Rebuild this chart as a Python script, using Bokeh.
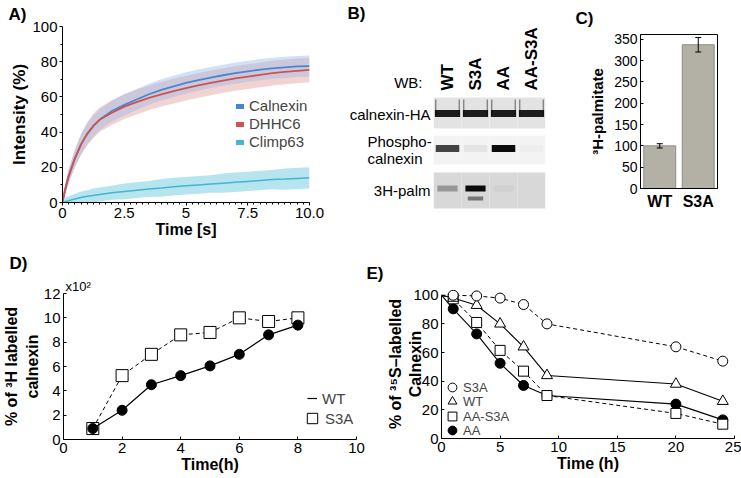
import math
import numpy as np
from bokeh.plotting import figure
from bokeh.models import (Range1d, FactorRange, Legend, LegendItem, Title,
                          FixedTicker, ColumnDataSource, Whisker, CDSView, IndexFilter)
from bokeh.layouts import row, column
from bokeh.transform import dodge
from bokeh.core.properties import value
from bokeh.embed import file_html
from bokeh.resources import INLINE

FONT = "Liberation Sans"

# ---------------- data ----------------
# Panel A: recovery curves (mean and spread)
a_time = [0, 0.1, 0.25, 0.5, 0.75, 1, 1.25, 1.5, 2, 2.5, 3, 3.5, 4, 4.5, 5, 5.5, 6, 6.5, 7, 7.5, 8, 8.5, 9, 9.5, 10]
a_calnexin = [0, 7, 15, 25, 33, 39, 43.5, 47, 52, 55.5, 58.5, 61.5, 64, 66, 68, 69.5, 71, 72.3, 73.5, 74.5, 75.5, 76.2, 76.8, 77.3, 77.5]
a_dhhc6 = [0, 7, 15, 25, 33, 39, 43.5, 47, 51, 54.5, 57, 59.5, 61.5, 63.3, 65, 66.5, 68, 69.3, 70.5, 71.5, 72.5, 73.5, 74.2, 74.8, 75.3]
a_climp63 = [0, 0.5, 1, 2, 2.8, 3.5, 4, 4.5, 5.5, 6.3, 7, 7.7, 8.3, 9, 9.5, 10, 10.5, 11, 11.5, 12, 12.5, 13, 13.3, 13.7, 14]
a_calnexin_err = [0, 3, 4, 5, 5.5, 6, 6, 6, 6, 6, 6, 6, 6, 6, 6, 6, 6, 6, 6, 6, 6, 6, 6, 6, 6]
a_dhhc6_err = [0, 3, 4, 5, 6, 6.5, 7, 7, 7, 7, 7, 7, 7, 7, 7, 7, 7, 7, 7, 7, 7, 7, 7, 7, 7]
a_climp63_err = [0, 2, 2.5, 3, 3.5, 3.5, 4, 4, 4, 4.5, 4.5, 4.5, 5, 5, 5, 5, 5, 5.5, 5.5, 5.5, 5.5, 5.5, 6, 6, 6]
a_series = ["Calnexin", "DHHC6", "Climp63"]
a_xticks = [0, 2.5, 5, 7.5, 10]
a_xtick_labels = ["0", "2.5", "5", "7.5", "10.0"]
a_yticks = [0, 20, 40, 60, 80, 100]

# Panel B: western blot lanes and band intensities (0..1)
b_lanes = ["WT", "S3A", "AA", "AA-S3A"]
b_calnexin_ha = [0.88, 0.88, 0.88, 0.88]
b_phospho = [0.72, 0.06, 0.95, 0.02]
b_palm = [0.3, 0.95, 0.03, 0.0]
b_palm_lower = [0.0, 0.45, 0.0, 0.0]

# Panel C
c_groups = ["WT", "S3A"]
c_values = [100, 337]
c_errors = [5, 17]
c_yticks = [0, 50, 100, 150, 200, 250, 300, 350]

# Panel D
d_time = [1, 2, 3, 4, 5, 6, 7, 8]
d_wt = [0.9, 2.4, 4.5, 5.25, 6.05, 7.0, 8.6, 9.4]
d_s3a = [0.9, 5.25, 7.0, 8.6, 8.8, 10.0, 9.7, 10.0]
d_xticks = [0, 2, 4, 6, 8, 10]
d_yticks = [0, 2, 4, 6, 8, 10, 12]

# Panel E
e_time = [0, 1, 3, 5, 7, 9, 20, 24]
e_s3a = [100, 100, 99.5, 98, 93.5, 80, 64, 54]
e_wt = [100, 98, 93, 80, 64, 44, 38, 26]
e_aas3a = [100, 97.5, 81, 61.5, 47, 30, 17.5, 10]
e_aa = [100, 90.5, 73, 52.5, 37, 30, 24, 13]
e_xticks = [0, 5, 10, 15, 20, 25]
e_yticks = [0, 20, 40, 60, 80, 100]


# ---------------- helpers ----------------
def style_axis(ax, size=15, tin=0, tout=3, standoff=2):
    ax.axis_line_color = "black"
    ax.axis_line_width = 1
    ax.major_tick_line_color = "black"
    ax.major_tick_in = tin
    ax.major_tick_out = tout
    ax.minor_tick_line_color = None
    ax.major_label_text_font = FONT
    ax.major_label_text_font_size = f"{size}px"
    ax.major_label_text_color = "black"
    ax.major_label_standoff = standoff
    ax.axis_label_text_font = FONT
    ax.axis_label_text_font_style = "bold"
    ax.axis_label_text_color = "black"


def base_fig(**kw):
    p = figure(output_backend="svg", toolbar_location=None, frame_align=False, **kw)
    p.grid.visible = False
    p.outline_line_color = None
    p.background_fill_color = "white"
    p.border_fill_color = "white"
    return p


def letter(p, text, offset, standoff, size=17):
    p.title.text = text
    p.title.align = "left"
    p.title.offset = offset
    p.title.standoff = standoff
    p.title.text_font = FONT
    p.title.text_font_size = f"{size}px"
    p.title.text_font_style = "bold"
    p.title.text_color = "black"


# ---------------- Panel A ----------------
pA = base_fig(width=335, height=240, x_range=Range1d(0, 10), y_range=Range1d(0, 100),
              min_border_left=62, min_border_right=26, min_border_top=25, min_border_bottom=38)
srcA = ColumnDataSource(dict(
    t=a_time, cal=a_calnexin, dh=a_dhhc6, cl=a_climp63,
    cal_lo=[m - e for m, e in zip(a_calnexin, a_calnexin_err)],
    cal_hi=[m + e for m, e in zip(a_calnexin, a_calnexin_err)],
    dh_lo=[m - e for m, e in zip(a_dhhc6, a_dhhc6_err)],
    dh_hi=[m + e for m, e in zip(a_dhhc6, a_dhhc6_err)],
    cl_lo=[max(0, m - e) for m, e in zip(a_climp63, a_climp63_err)],
    cl_hi=[m + e for m, e in zip(a_climp63, a_climp63_err)],
))
COL_CAL, COL_DH, COL_CL = "#4a86cf", "#d0524c", "#45b5d0"
pA.varea(x="t", y1="dh_lo", y2="dh_hi", source=srcA, fill_color="#e59c9c", fill_alpha=0.45)
pA.varea(x="t", y1="cal_lo", y2="cal_hi", source=srcA, fill_color="#9bbde8", fill_alpha=0.45)
pA.varea(x="t", y1="cl_lo", y2="cl_hi", source=srcA, fill_color="#86d2e4", fill_alpha=0.6)
pA.line("t", "cal", source=srcA, color=COL_CAL, line_width=1.8)
pA.line("t", "dh", source=srcA, color=COL_DH, line_width=1.8)
pA.line("t", "cl", source=srcA, color=COL_CL, line_width=1.5)
legA_r = [pA.line(x=np.array([np.nan]), y=np.array([np.nan]), line_width=5, line_cap="round", color=c)
          for c in (COL_CAL, COL_DH, COL_CL)]
legA = Legend(items=[LegendItem(label=s, renderers=[r]) for s, r in zip(a_series, legA_r)],
              location=(174, 52), glyph_width=8, glyph_height=14, label_height=14,
              label_standoff=5, spacing=1, padding=0, margin=0, border_line_color=None,
              background_fill_alpha=0, label_text_font=FONT, label_text_font_size="15px")
pA.add_layout(legA)
for ax in pA.axis:
    style_axis(ax, size=15, tin=0, tout=3, standoff=2)
    ax.minor_tick_line_color = "black"
    ax.minor_tick_in = 0
    ax.minor_tick_out = 2
pA.xaxis.ticker = FixedTicker(ticks=a_xticks, minor_ticks=[i * 0.25 for i in range(41)])
pA.xaxis.major_label_overrides = {t: l for t, l in zip(a_xticks, a_xtick_labels)}
pA.yaxis.ticker = FixedTicker(ticks=a_yticks, minor_ticks=[10, 30, 50, 70, 90])
pA.yaxis.axis_label = "Intensity (%)"
pA.yaxis.axis_label_text_font_size = "17px"
pA.yaxis.axis_label_standoff = 0
pA.xaxis.axis_label = "Time [s]"
pA.xaxis.axis_label_text_font_size = "16px"
pA.xaxis.axis_label_standoff = 0
letter(pA, "A)", -54, 5)

# ---------------- Panel B (row labels) ----------------
pBL = base_fig(width=98, height=240, x_range=Range1d(335, 433), y_range=Range1d(240, 0),
               x_axis_location=None, y_axis_location=None, title=None,
               min_border_left=0, min_border_right=0, min_border_top=0, min_border_bottom=0)
txt_kw = dict(text_font=value(FONT), text_font_size=value("15px"), text_color="black", text_baseline="middle")
pBL.text(x=[347], y=[13], text=["B)"], text_align="left", text_font=value(FONT),
         text_font_size=value("17px"), text_font_style="bold", text_color="black", text_baseline="middle")
pBL.text(x=[422, 430, 430], y=[82, 114, 190], text=["WB:", "calnexin-HA", "3H-palm"], text_align="right", **txt_kw)
pBL.text(x=[367, 367], y=[141, 158], text=["Phospho-", "calnexin"], text_align="left", **txt_kw)

# ---------------- Panel B (blot) ----------------
pB = base_fig(width=122, height=240, x_range=FactorRange(*b_lanes), y_range=Range1d(240, 0),
              x_axis_location=None, y_axis_location=None, title=None,
              min_border_left=0, min_border_right=10, min_border_top=0, min_border_bottom=0)
srcB = ColumnDataSource(dict(lane=b_lanes, ha=b_calnexin_ha, ph=b_phospho, pa=b_palm, pl=b_palm_lower))
pB.rect(x="lane", y=112.5, width=1.0, height=31, source=srcB, fill_color="#e3e3e3", line_color=None)
pB.rect(x="lane", y=149.5, width=1.0, height=29, source=srcB, fill_color="#f3f3f3", line_color=None)
pB.rect(x="lane", y=190, width=1.0, height=36, source=srcB, fill_color="#d8d8d8", line_color=None)
for off in (-0.42, 0.42):
    pB.segment(x0=dodge("lane", off, range=pB.x_range), y0=99,
               x1=dodge("lane", off, range=pB.x_range), y1=115,
               source=srcB, line_color="#7d7d7d", line_width=1.3)
pB.rect(x="lane", y=113, width=0.9, height=7, source=srcB, fill_color="black",
        fill_alpha="ha", line_color=None)
pB.rect(x="lane", y=148, width=0.84, height=7, source=srcB, fill_color="black",
        fill_alpha="ph", line_color=None)
pB.rect(x="lane", y=188, width=0.72, height=6, source=srcB, fill_color="black",
        fill_alpha="pa", line_color=None)
pB.rect(x="lane", y=198, width=0.55, height=4, source=srcB, fill_color="black",
        fill_alpha="pl", line_color=None)
pB.text(x="lane", y=90, text="lane", source=srcB, angle=math.pi / 2,
        text_align="left", text_baseline="middle", text_font=value(FONT),
        text_font_style="bold", text_font_size=value("17px"), text_color="black")

# ---------------- Panel C ----------------
pC = base_fig(width=186, height=240, x_range=FactorRange(*c_groups), y_range=Range1d(0, 361),
              min_border_left=85, min_border_right=24, min_border_top=29, min_border_bottom=52)
pC.outline_line_color = "black"
pC.outline_line_width = 1
srcC = ColumnDataSource(dict(g=c_groups, v=c_values,
                             lo=[v - e for v, e in zip(c_values, c_errors)],
                             hi=[v + e for v, e in zip(c_values, c_errors)]))
pC.vbar(x="g", top="v", width=0.83, source=srcC, fill_color="#b3b0a6", line_color="#8e8c86", line_width=1)
wC = Whisker(base="g", upper="hi", lower="lo", source=srcC, line_color="black", line_width=1, level="annotation")
wC.upper_head.size = 6
wC.lower_head.size = 6
wC.upper_head.line_color = "black"
wC.lower_head.line_color = "black"
pC.add_layout(wC)
style_axis(pC.yaxis[0], size=14, tin=3, tout=0, standoff=3)
pC.yaxis.ticker = FixedTicker(ticks=c_yticks)
pC.yaxis.axis_label = "³H-palmitate"
pC.yaxis.axis_label_text_font_size = "15px"
pC.yaxis.axis_label_standoff = 5
style_axis(pC.xaxis[0], size=16, tin=0, tout=0, standoff=4)
pC.xaxis.major_label_text_font_style = "bold"
letter(pC, "C)", -65, 13)

# ---------------- Panel D ----------------
pD = base_fig(width=365, height=237, x_range=Range1d(0, 10), y_range=Range1d(0, 12),
              min_border_left=61, min_border_right=9, min_border_top=53, min_border_bottom=38)
srcD = ColumnDataSource(dict(t=d_time, wt=d_wt, s3a=d_s3a))
lD_s = pD.line("t", "s3a", source=srcD, line_color="black", line_width=1, line_dash="4 3")
mD_s = pD.scatter("t", "s3a", source=srcD, marker="square", size=12, fill_color="white",
                  line_color="black", line_width=1)
lD_w = pD.line("t", "wt", source=srcD, line_color="black", line_width=1.2)
mD_w = pD.scatter("t", "wt", source=srcD, marker="circle", size=10, fill_color="black", line_color="black")
for ax in pD.axis:
    style_axis(ax, size=15, tin=3, tout=0, standoff=3)
pD.xaxis.ticker = FixedTicker(ticks=d_xticks)
pD.yaxis.ticker = FixedTicker(ticks=d_yticks)
pD.yaxis.axis_label = "% of ³H labelled\ncalnexin"
pD.yaxis.axis_label_text_font_size = "16px"
pD.yaxis.axis_label_standoff = 0
pD.xaxis.axis_label = "Time(h)"
pD.xaxis.axis_label_text_font_size = "16px"
pD.xaxis.axis_label_standoff = 0
legD1 = Legend(items=[LegendItem(label="WT", renderers=[lD_w])], location=(244, 31),
               glyph_width=10, glyph_height=20, label_height=20, label_standoff=5, spacing=0,
               padding=0, margin=0, border_line_color=None, background_fill_alpha=0,
               label_text_font=FONT, label_text_font_size="15px")
legD2 = Legend(items=[LegendItem(label="S3A", renderers=[mD_s])], location=(236, 8),
               glyph_width=26, glyph_height=26, label_height=20, label_standoff=0, spacing=0,
               padding=0, margin=0, border_line_color=None, background_fill_alpha=0,
               label_text_font=FONT, label_text_font_size="15px")
pD.add_layout(legD1)
pD.add_layout(legD2)
# outer title: panel letter; inner (added) title: the x10^2 multiplier
letter(pD, "D)", -54, 8)
pD.add_layout(Title(text="x10²", align="left", offset=2, standoff=0, text_font=FONT,
                    text_font_size="13px", text_font_style="normal", text_color="black"), "above")

# ---------------- Panel E ----------------
pE = base_fig(width=376, height=237, x_range=Range1d(0, 25), y_range=Range1d(0, 104),
              min_border_left=76, min_border_right=7, min_border_top=49, min_border_bottom=39)
srcE = ColumnDataSource(dict(t=e_time, s3a=e_s3a, wt=e_wt, aas3a=e_aas3a, aa=e_aa))
vE = CDSView(filter=IndexFilter(list(range(1, len(e_time)))))
pE.line("t", "s3a", source=srcE, line_color="black", line_width=1, line_dash="4 3")
pE.line("t", "wt", source=srcE, line_color="black", line_width=1.1)
pE.line("t", "aas3a", source=srcE, line_color="black", line_width=1, line_dash="4 3")
pE.line("t", "aa", source=srcE, line_color="black", line_width=1.1)
mE_aa = pE.scatter("t", "aa", source=srcE, view=vE, marker="circle", size=10,
                   fill_color="black", line_color="black")
mE_aas3a = pE.scatter("t", "aas3a", source=srcE, view=vE, marker="square", size=10,
                      fill_color="white", line_color="black", line_width=1)
mE_wt = pE.scatter("t", "wt", source=srcE, view=vE, marker="triangle", size=11,
                   fill_color="white", line_color="black", line_width=1)
mE_s3a = pE.scatter("t", "s3a", source=srcE, view=vE, marker="circle", size=10,
                    fill_color="white", line_color="black", line_width=1)
for ax in pE.axis:
    style_axis(ax, size=15, tin=3, tout=0, standoff=3)
pE.xaxis.ticker = FixedTicker(ticks=e_xticks)
pE.yaxis.ticker = FixedTicker(ticks=e_yticks)
pE.yaxis.bounds = (0, 100)
pE.yaxis.axis_label = "% of ³⁵S–labelled\nCalnexin"
pE.yaxis.axis_label_text_font_size = "16px"
pE.yaxis.axis_label_standoff = -14
pE.xaxis.axis_label = "Time (h)"
pE.xaxis.axis_label_text_font_size = "16px"
pE.xaxis.axis_label_standoff = 0
for (lbl, r), ypos in zip([("S3A", mE_s3a), ("WT", mE_wt), ("AA-S3A", mE_aas3a), ("AA", mE_aa)],
                          (40, 26, 11, -3)):
    pE.add_layout(Legend(items=[LegendItem(label=lbl, renderers=[r])], location=(0, ypos),
                         glyph_width=22, glyph_height=22, label_height=13, label_standoff=0,
                         spacing=0, padding=0, margin=0, border_line_color=None,
                         background_fill_alpha=0, label_text_font=FONT, label_text_font_size="13px"))
letter(pE, "E)", -75, 13)

layout = column(row(pA, pBL, pB, pC), row(pD, pE))
open("out.html", "w").write(file_html(layout, INLINE))
